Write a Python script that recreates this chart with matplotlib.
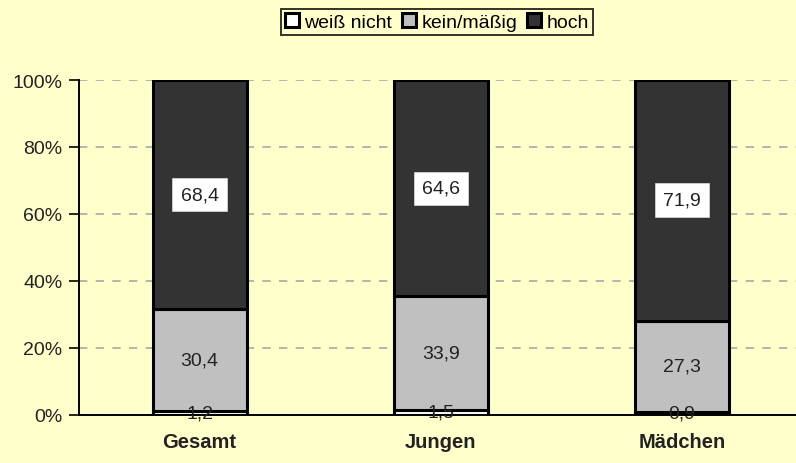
import matplotlib.pyplot as plt
import numpy as np

categories = ['Gesamt', 'Jungen', 'Mädchen']
weiss_nicht = [1.2, 1.5, 0.9]
kein_maessig = [30.4, 33.9, 27.3]
hoch = [68.4, 64.6, 71.9]
series_names = ['weiß nicht', 'kein/mäßig', 'hoch']

plt.rcParams['font.family'] = ['Liberation Sans', 'DejaVu Sans']

bg = '#FFFFCC'
fig = plt.figure(figsize=(7.96, 4.64), dpi=100, facecolor=bg)
ax = fig.add_axes([79 / 796, 48 / 464, 717 / 796, 335 / 464], facecolor=bg)

x = np.arange(len(categories))
w = 0.39
b1 = ax.bar(x, weiss_nicht, w, color='white', edgecolor='black', linewidth=2.2, label=series_names[0], zorder=3)
b2 = ax.bar(x, kein_maessig, w, bottom=weiss_nicht, color='#C0C0C0', edgecolor='black', linewidth=2.2,
            label=series_names[1], zorder=3)
bottom3 = np.array(weiss_nicht) + np.array(kein_maessig)
b3 = ax.bar(x, hoch, w, bottom=bottom3, color='#333333', edgecolor='black', linewidth=2.2,
            label=series_names[2], zorder=3)

fmt = lambda v: f'{v:.1f}'.replace('.', ',')
for i in x:
    ax.text(i, weiss_nicht[i] / 2, fmt(weiss_nicht[i]), ha='center', va='center', fontsize=14,
            color='#222222', zorder=5)
    ax.text(i, weiss_nicht[i] + kein_maessig[i] / 2, fmt(kein_maessig[i]), ha='center', va='center',
            fontsize=14, color='#222222', zorder=5)
    ax.text(i, bottom3[i] + hoch[i] / 2, fmt(hoch[i]), ha='center', va='center', fontsize=14,
            color='#222222', zorder=5,
            bbox=dict(boxstyle='square,pad=0.42', facecolor='white', edgecolor='#DDDDDD', linewidth=0.5))

ax.set_xlim(-0.5, (796 - 200) / 241)
ax.set_ylim(0, 100)
ax.set_yticks(range(0, 101, 20))
ax.set_yticklabels([f'{v}%' for v in range(0, 101, 20)], fontsize=14, color='#222222')
ax.set_xticks(x)
ax.set_xticklabels(categories, fontsize=14.5, fontweight='bold', color='#222222')
ax.tick_params(axis='x', length=0, pad=12)
ax.tick_params(axis='y', length=7, width=1.2, direction='out', pad=5)
ax.grid(axis='y', linestyle=(0, (5, 5)), color='#A8A8A8', linewidth=1.2, zorder=0)

for s in ['top', 'right']:
    ax.spines[s].set_visible(False)
ax.spines['left'].set_linewidth(1.4)
ax.spines['bottom'].set_linewidth(1.4)

leg = fig.legend(handles=[b1, b2, b3], loc='center', bbox_to_anchor=(437 / 796, 1 - 23 / 464), ncol=3,
                 frameon=True, fancybox=False, edgecolor='black', facecolor=bg, fontsize=14,
                 handlelength=0.7, handleheight=0.7, handletextpad=0.3, columnspacing=0.5,
                 borderpad=0.2)
leg.get_frame().set_linewidth(1.4)

fig.savefig('out.png', dpi=100, facecolor=bg)
